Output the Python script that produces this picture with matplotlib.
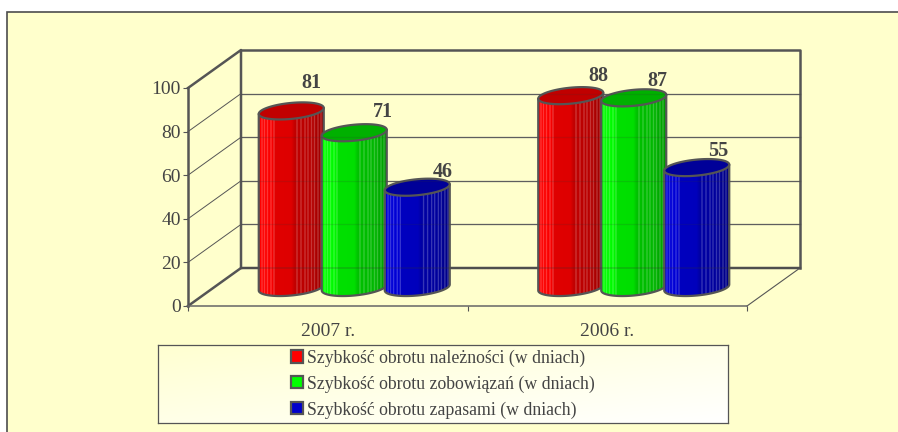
import matplotlib
matplotlib.use("Agg")
import matplotlib.pyplot as plt
import numpy as np
from matplotlib.patches import Patch, Polygon, Rectangle

years = ["2007 r.", "2006 r."]
series_names = ["Szybkość obrotu należności (w dniach)",
                "Szybkość obrotu zobowiązań (w dniach)",
                "Szybkość obrotu zapasami (w dniach)"]
receivables = [81, 88]
payables = [71, 87]
inventory = [46, 55]
y_ticks = [0, 20, 40, 60, 80, 100]

# label shifts by hand, pixels from the middle of each cylinder top
label_dx = [[20, 29, 25], [28, 24, 21]]
label_dy = [[23, 16, 10], [15, 12, 12]]

W, H = 898, 432
TEXT = "#444444"
EDGE = "#555555"
BG = "#FFFFCC"
plt.rcParams["font.family"] = ["Liberation Serif", "DejaVu Serif"]

# front plane of the 3d box in pixels
left, right, bottom, top = 188, 747, 306, 88
px_x = 2.0 / (right - left)
px_y = 100.0 / (bottom - top)
depth_x = 53 * px_x
depth_y = 38 * px_y


def fig_rect(x0, y0, x1, y1):
    return [x0 / W, 1 - y1 / H, (x1 - x0) / W, (y1 - y0) / H]


def shade_strip(color, dark):
    # vertical strips of the cylinder wall, bright left to dark right
    n = 130
    pos = np.linspace(0, 1, n)
    level = np.interp(pos, [0, 0.2, 0.24, 0.5, 0.55, 0.8, 1], [1, 0.98, 0.88, 0.87, 0.76, 0.72, dark])
    img = np.outer(level, color)
    for f in [0.04, 0.08, 0.13, 0.18, 0.23, 0.58, 0.64, 0.7, 0.75, 0.8, 0.85, 0.9, 0.95]:
        i = int(f * n)
        img[i:i + 2] = img[i:i + 2] * 0.72 + 0.28
    return np.clip(img, 0, 1)[np.newaxis, :, :]


def cylinder(ax, cx, value, color, top_color, z):
    a = 32.5 * px_x
    b = 8 * px_y
    k = 3 * px_y
    base = 18.5 * px_y
    t = np.linspace(0, 2 * np.pi, 120)
    low = np.linspace(np.pi, 2 * np.pi, 60)
    high = value + base
    wall = np.vstack([
        np.column_stack([cx + a * np.cos(low), base + k * np.cos(low) + b * np.sin(low)]),
        [[cx + a, high + k], [cx - a, high - k]],
    ])
    body = Polygon(wall, closed=True, facecolor="none", edgecolor=EDGE, lw=1.6,
                   clip_on=False, zorder=z + 0.2, joinstyle="round")
    ax.add_patch(body)
    im = ax.imshow(shade_strip(color, 0.6), extent=[cx - a, cx + a, 0, 100], aspect="auto",
                   interpolation="bilinear", zorder=z)
    im.set_clip_path(body)
    im.set_clip_box(ax.figure.bbox)
    lid = np.column_stack([cx + a * np.cos(t), high + k * np.cos(t) + b * np.sin(t)])
    ax.add_patch(Polygon(lid, closed=True, facecolor=top_color, edgecolor=EDGE, lw=1.6,
                         clip_on=False, zorder=z + 0.3))
    return high


fig = plt.figure(figsize=(W / 100, H / 100), dpi=100, facecolor="white")

panel = Rectangle((7 / W, -0.1), 1.1, 1.1 - 12 / H + 0.0, transform=fig.transFigure,
                  facecolor=BG, edgecolor="#4d4d4d", lw=1.2, zorder=-1)
fig.add_artist(panel)

ax = fig.add_axes(fig_rect(left, top, right, bottom))
ax.patch.set_visible(False)

# walls and floor
for v in y_ticks[1:-1]:
    ax.plot([0, depth_x], [v, v + depth_y], color="#555555", lw=0.7, clip_on=False, zorder=1)
    ax.plot([depth_x, 2 + depth_x], [v + depth_y, v + depth_y], color="#666666", lw=0.9, clip_on=False, zorder=1)
    ax.plot([depth_x, 2 + depth_x], [v + depth_y, v + depth_y], color="#333333", lw=0.9, alpha=0.15,
            clip_on=False, zorder=30)
thick = dict(color="#555555", lw=1.8, clip_on=False, zorder=1, solid_capstyle="projecting")
ax.plot([0, depth_x, depth_x], [100, 100 + depth_y, depth_y], **thick)
ax.plot([depth_x, 2 + depth_x, 2 + depth_x], [100 + depth_y, 100 + depth_y, depth_y], **thick)
ax.plot([0, depth_x, 2 + depth_x], [0, depth_y, depth_y], **thick)
ax.plot([depth_x, 2 + depth_x], [depth_y, depth_y], color="#333333", lw=1.4, alpha=0.2, clip_on=False, zorder=30)
ax.plot([2, 2 + depth_x], [0, depth_y], color="#555555", lw=0.8, clip_on=False, zorder=1)

# cylinders, left to right so each one sits over the previous
values = [receivables, payables, inventory]
colors = [(1.0, 0, 0), (0, 1.0, 0), (0, 0, 0.85)]
top_colors = ["#C00000", "#00B000", "#000098"]
legend_colors = ["#FF0000", "#00FF00", "#0000CC"]
slot = 63 * px_x
for i in range(len(years)):
    center = i + 0.5 + depth_x / 2
    for j, vals in enumerate(values):
        cx = center + (j - 1) * slot
        high = cylinder(ax, cx, vals[i], colors[j], top_colors[j], 5 + i * 5 + j)
        ax.annotate(str(vals[i]), (cx, high), xytext=(label_dx[i][j], label_dy[i][j]),
                    textcoords="offset pixels", ha="center", va="baseline", fontsize=14.5,
                    fontweight="bold", color=TEXT, zorder=40, annotation_clip=False)

ax.set_xlim(0, 2)
ax.set_ylim(0, 100)
ax.set_yticks(y_ticks)
ax.set_xticks([0, 1, 2], labels=["", "", ""])
ax.set_xticks([0.5, 1.5], labels=years, minor=True)
ax.tick_params(axis="x", which="major", length=3.5, width=0.8, color="#555555")
ax.tick_params(axis="x", which="minor", length=0, pad=12, labelsize=14, labelcolor=TEXT)
ax.tick_params(axis="y", length=3.5, width=0.8, color="#555555", pad=1.5, labelsize=14, labelcolor=TEXT)
for s in ["top", "right"]:
    ax.spines[s].set_visible(False)
ax.spines["left"].set_color("#555555")
ax.spines["left"].set_linewidth(1.8)
ax.spines["bottom"].set_color("#666666")
ax.spines["bottom"].set_linewidth(1.1)

# legend box has its own small axes for the pale gradient
lax = fig.add_axes(fig_rect(158, 345, 728, 423))
grad = np.linspace(0, 1, 60)
gx, gy = np.meshgrid(grad, grad)
mix = (gx + gy) / 2
rgb = np.dstack([np.ones_like(mix), np.ones_like(mix), 0.82 + 0.18 * mix])
lax.imshow(rgb, extent=[0, 1, 0, 1], aspect="auto", origin="upper", interpolation="bilinear")
lax.set_xticks([])
lax.set_yticks([])
for s in lax.spines.values():
    s.set_color("#555555")
    s.set_linewidth(0.9)
handles = [Patch(facecolor=c, edgecolor=EDGE, lw=1.6) for c in legend_colors]
lax.legend(handles, series_names, frameon=False, loc="center left", bbox_to_anchor=(0.2335, 0.5),
           fontsize=12.8, labelcolor=TEXT, handlelength=0.68, handleheight=0.68, handletextpad=0.2,
           labelspacing=0.48, borderpad=0, borderaxespad=0)

fig.savefig("out.png", dpi=100, facecolor="white")
